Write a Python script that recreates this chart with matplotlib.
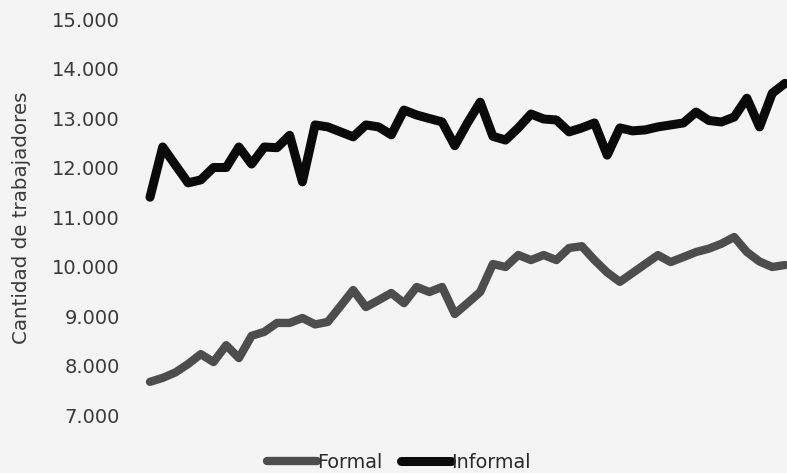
import matplotlib
matplotlib.use('Agg')
import matplotlib.pyplot as plt
from matplotlib.ticker import FuncFormatter

# monthly values (51 points)
formal = [7670, 7750, 7860, 8030, 8230, 8070, 8410, 8150, 8600, 8680,
          8860, 8860, 8960, 8830, 8880, 9200, 9525, 9180, 9320, 9465,
          9260, 9586, 9485, 9586, 9040, 9260, 9485, 10050, 9990, 10232,
          10130, 10232, 10130, 10374, 10410, 10130, 9880, 9690, 9870, 10050,
          10230, 10090, 10190, 10293, 10360, 10460, 10596, 10293, 10100, 9990,
          10030]
informal = [11400, 12414, 12050, 11690, 11750, 12000, 12000, 12414, 12070, 12414,
            12400, 12650, 11710, 12860, 12820, 12720, 12620, 12860, 12820, 12660,
            13160, 13060, 12990, 12920, 12440, 12900, 13320, 12630, 12555, 12800,
            13080, 12980, 12960, 12720, 12800, 12900, 12250, 12800, 12740, 12760,
            12820, 12860, 12900, 13120, 12950, 12920, 13020, 13400, 12820, 13500,
            13700]
months = list(range(len(formal)))
yticks = [7000, 8000, 9000, 10000, 11000, 12000, 13000, 14000, 15000]

plt.rcParams['font.family'] = ['DejaVu Sans']

fig = plt.figure(figsize=(7.87, 4.73), dpi=100)
fig.patch.set_facecolor('#f4f4f4')
ax = fig.add_axes([145 / 787, 33 / 473, 642 / 787, 430 / 473])
ax.set_facecolor('#f4f4f4')

ax.plot(months, formal, color='#4d4d4d', lw=6, solid_capstyle='round',
        solid_joinstyle='round', label='Formal')
ax.plot(months, informal, color='#0a0a0a', lw=6.5, solid_capstyle='round',
        solid_joinstyle='round', label='Informal')

ax.set_xlim(-0.394, 50.16)
ax.set_ylim(6495, 15182)
ax.set_yticks(yticks)
ax.yaxis.set_major_formatter(FuncFormatter(lambda v, p: f'{int(v):,}'.replace(',', '.')))
ax.tick_params(axis='y', length=0, pad=18, labelsize=14, labelcolor='#3a3a3a')
ax.set_xticks([])
for s in ax.spines.values():
    s.set_visible(False)

fig.text(22 / 787, 1 - 218 / 473, 'Cantidad de trabajadores', rotation=90,
         ha='center', va='center', fontsize=14.3, color='#3a3a3a')

fig.legend(loc='center', bbox_to_anchor=(399 / 787, 1 - 462 / 473), ncol=2,
           frameon=False, fontsize=13.8, handlelength=2.6, handletextpad=0.0,
           columnspacing=1.0, labelcolor='#2a2a2a')

fig.savefig('out.png', dpi=100, facecolor=fig.get_facecolor())
